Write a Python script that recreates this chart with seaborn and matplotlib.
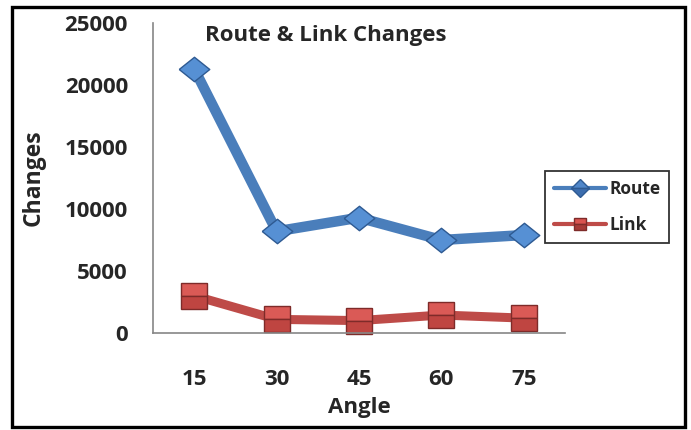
import matplotlib
matplotlib.use("Agg")
import matplotlib.pyplot as plt
from matplotlib.lines import Line2D
from matplotlib.patches import Rectangle
import seaborn as sns
import pandas as pd

angles = ["15", "30", "45", "60", "75"]
route = [21300, 8200, 9300, 7500, 7900]
link = [3000, 1100, 1000, 1450, 1200]
series_names = ["Route", "Link"]
yticks = [0, 5000, 10000, 15000, 20000, 25000]

sns.set_style("white")
plt.rcParams["font.family"] = ["Open Sans", "DejaVu Sans"]
plt.rcParams["font.weight"] = "bold"

df = pd.DataFrame({
    "Angle": angles * 2,
    "Changes": route + link,
    "Series": [series_names[0]] * len(angles) + [series_names[1]] * len(angles),
})

W, H = 691, 430
fig = plt.figure(figsize=(W / 100, H / 100), dpi=100)
ax = fig.add_axes([153 / W, (H - 333) / H, 412 / W, 310 / H])

blue = "#4A7EBB"
red = "#BE4B48"
diamond = [(-1, 0), (0, 0.8), (1, 0), (0, -0.8), (-1, 0)]

sns.lineplot(data=df, x="Angle", y="Changes", hue="Series", style="Series",
             palette={"Route": blue, "Link": red},
             markers={"Route": diamond, "Link": "s"}, dashes=False,
             linewidth=7, sort=False, legend=False, ax=ax)

styles = {
    0: dict(ms=22, mfc="#5690D4", mfcalt="#3F72B3", mec="#2E5A92"),
    1: dict(ms=19, mfc="#DA5A56", mfcalt="#BF4541", mec="#7E2B29"),
}
for i, ln in enumerate(ax.lines[:2]):
    s = styles[i]
    ln.set_markersize(s["ms"])
    ln.set_markerfacecolor(s["mfc"])
    ln.set_fillstyle("top")
    ln.set_markerfacecoloralt(s["mfcalt"])
    ln.set_markeredgecolor(s["mec"])
    ln.set_markeredgewidth(1.0)
    ln.set_solid_joinstyle("round")
    ln.set_clip_on(False)
ax.lines[0].set_linewidth(7.5)
ax.lines[1].set_linewidth(6.5)

ax.set_xlim(-0.5, 4.5)
ax.set_ylim(0, 25000)
ax.set_yticks(yticks)
ax.set_yticklabels([str(v) for v in yticks])
ax.set_xticks(range(len(angles)))
ax.set_xticks([i - 0.5 for i in range(len(angles) + 1)], minor=True)

for side in ["top", "right"]:
    ax.spines[side].set_visible(False)
for side in ["left", "bottom"]:
    ax.spines[side].set_color("#868686")
    ax.spines[side].set_linewidth(1.2)

ax.tick_params(axis="y", which="major", direction="out", length=6, width=1.2,
               color="#868686", pad=12, labelsize=16)
ax.tick_params(axis="x", which="major", length=0, pad=26, labelsize=16)
ax.tick_params(axis="x", which="minor", direction="out", length=6, width=1.2,
               color="#868686")
for lbl in ax.get_xticklabels() + ax.get_yticklabels():
    lbl.set_fontweight("bold")

ax.set_xlabel("Angle", fontsize=16, fontweight="bold", labelpad=5)
ax.set_ylabel("Changes", fontsize=16.5, fontweight="bold", labelpad=14)

fig.text(205 / W, 1 - 36 / H, "Route & Link Changes", fontsize=16,
         fontweight="bold", ha="left", va="center")

handles = [
    Line2D([], [], color=blue, lw=3, marker="D", ms=9, mfc="#4F86C9",
           mec="#2E5A92", fillstyle="top", markerfacecoloralt="#3C6DAE"),
    Line2D([], [], color=red, lw=3, marker="s", ms=9, mfc="#D9534F",
           mec="#7E2B29", fillstyle="top", markerfacecoloralt="#A63A37"),
]
leg = fig.legend(handles, series_names, loc="upper left",
                 bbox_to_anchor=(545 / W, 1 - 171 / H),
                 bbox_transform=fig.transFigure, frameon=True, fancybox=False,
                 prop={"weight": "bold", "size": 12.5}, handlelength=3.0,
                 handletextpad=0.2, labelspacing=1.05, borderpad=0.5,
                 borderaxespad=0)
leg.get_frame().set_edgecolor("black")
leg.get_frame().set_linewidth(1.3)

fig.add_artist(Rectangle((11.5 / W, (H - 427) / H), (685 - 11.5) / W,
                         (427 - 6.5) / H, transform=fig.transFigure,
                         fill=False, edgecolor="black", linewidth=2.4))

fig.savefig("out.png", dpi=100)
